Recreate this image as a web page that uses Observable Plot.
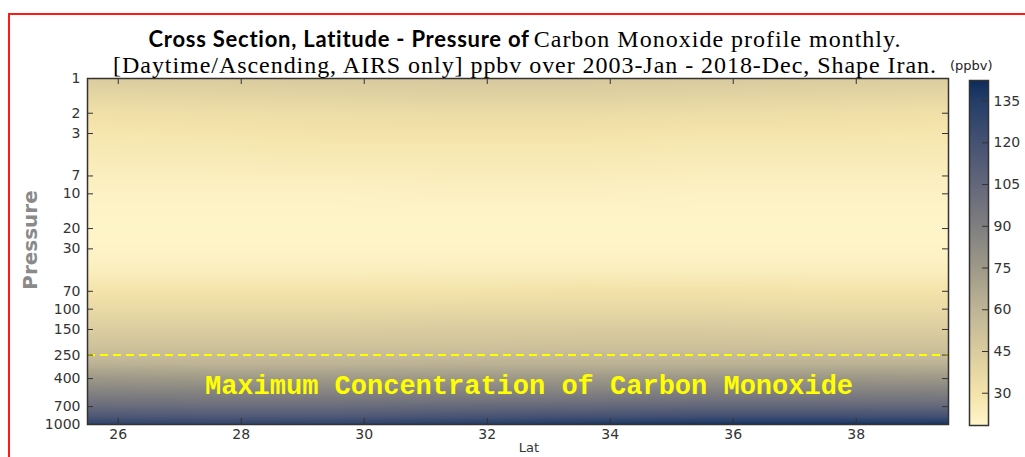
<!DOCTYPE html>
<html>
<head>
<meta charset="utf-8">
<script src="https://cdn.jsdelivr.net/npm/d3@7"></script>
<script src="https://cdn.jsdelivr.net/npm/@observablehq/plot@0.6"></script>
<style>
  body { margin: 0; background: #fff; }
  #wrap { position: relative; width: 1025px; height: 457px; overflow: hidden; background: #fff; }
  #border { position: absolute; left: 8px; top: 13px; width: 1100px; height: 600px; border-left: 2px solid #ff1a1a; border-top: 2px solid #ff1a1a; }
  .t { position: absolute; left: 0; width: 1050px; text-align: center; white-space: nowrap; color: #000; line-height: 27px; }
  #t1 { top: 25px; }
  #t1 .b { font-family: Lato, "Open Sans", sans-serif; font-weight: bold; font-size: 22px; letter-spacing: 0.75px; }
  #t1 .s { font-family: "Liberation Serif", serif; font-size: 24px; letter-spacing: 1px; }
  #t2 { top: 52px; font-family: "Liberation Serif", serif; font-size: 24px; letter-spacing: 0.95px; }
  #unit { position: absolute; left: 950px; top: 58px; font-family: "DejaVu Sans", sans-serif; font-size: 13px; color: #222; }
  #ylab { position: absolute; left: 30px; top: 240px; transform: translate(-50%, -50%) rotate(-90deg); font-family: "DejaVu Sans", sans-serif; font-weight: bold; font-size: 20px; color: #8a8a8a; white-space: nowrap; }
  #main { position: absolute; left: 0; top: 0; }
  #cbar { position: absolute; left: 955px; top: 0; }
</style>
</head>
<body>
<div id="wrap">
  <div id="border"></div>
  <div id="main"></div>
  <div id="cbar"></div>
  <div class="t" id="t1"><span class="b">Cross Section, Latitude - Pressure of</span> <span class="s">Carbon Monoxide profile monthly.</span></div>
  <div class="t" id="t2">[Daytime/Ascending, AIRS only] ppbv over 2003-Jan - 2018-Dec, Shape Iran.</div>
  <div id="unit">(ppbv)</div>
  <div id="ylab">Pressure</div>
</div>
<script>
// ---- data ----
const lats = [25.5, 27.5, 29.5, 31.5, 33.5, 35.5, 37.5, 39.5];
const pressures = [1, 1.5, 2, 3, 5, 7, 10, 15, 20, 30, 40, 50, 70, 100, 150, 200, 250, 300, 400, 500, 600, 700, 850, 1000];
// CO (ppbv), one row per pressure level, one column per latitude
const coValues = [
  [45, 45, 46, 47, 47, 46, 45, 44],
  [37, 38, 39, 40, 40, 39, 38, 37],
  [32, 33, 34, 35, 35, 34, 33, 32],
  [28, 29, 30, 30, 30, 29, 29, 28],
  [25, 25, 26, 26, 26, 25, 25, 25],
  [23, 23, 23, 24, 24, 23, 23, 23],
  [21, 21, 21, 22, 22, 21, 21, 21],
  [20, 20, 20, 20, 20, 20, 20, 20],
  [19.5, 19.5, 19.5, 19.5, 19.5, 19.5, 19.5, 19.5],
  [20, 20, 20, 20, 20, 20, 20, 20],
  [22, 22, 22, 22, 22, 22, 22, 22],
  [24, 24, 24, 24.5, 24.5, 24, 24, 24],
  [30, 30, 30, 30, 31, 31, 30, 30],
  [36, 36, 36, 37, 37, 37, 36, 36],
  [44, 44, 44, 45, 45, 45, 44, 44],
  [50, 50, 50, 50, 51, 51, 50, 50],
  [55, 55, 55, 55, 56, 56, 56, 55],
  [62, 61, 61, 62, 62, 62, 62, 62],
  [76, 75, 75, 76, 76, 77, 77, 76],
  [86, 85, 85, 86, 86, 87, 87, 87],
  [95, 94, 94, 95, 96, 97, 97, 96],
  [103, 102, 102, 104, 105, 106, 106, 105],
  [116, 115, 115, 118, 120, 122, 122, 121],
  [132, 131, 132, 135, 138, 141, 141, 140]
];
const latDomain = [25.5, 39.5];
const pressureDomain = [1, 1000];
const xTicks = [26, 28, 30, 32, 34, 36, 38];
const yTicks = [1, 2, 3, 7, 10, 20, 30, 70, 100, 150, 250, 400, 700, 1000];
const colorTicks = [30, 45, 60, 75, 90, 105, 120, 135];
const colorDomain = [18.4, 142.4];
const refPressure = [250];
const annotation = ["Maximum Concentration of Carbon Monoxide"];

// ---- colour map ----
const cmapStops = [18.4, 30, 45, 60, 75, 90, 105, 120, 135, 142.4];
const cmapColors = ["#fff6cc", "#f4e3aa", "#dacc9f", "#bfb596", "#9e9988", "#807f80", "#63677a", "#465273", "#243e68", "#0d2b5c"];
const colorScale = {type: "linear", domain: cmapStops, range: cmapColors, interpolate: "rgb", clamp: true};

const cells = [];
pressures.forEach((p, i) => lats.forEach((lat, j) => cells.push({lat, p, v: coValues[i][j]})));

const frameW = 1025 - 87 - 77;
const frameH = 457 - 78 - 33;
const tickLen = 6;

const main = Plot.plot({
  width: 1025, height: 457,
  marginTop: 78, marginBottom: 33, marginLeft: 87, marginRight: 77,
  style: "font-family: 'DejaVu Sans', sans-serif; font-size: 14px; color: #333; background: none; overflow: visible;",
  x: {domain: latDomain, axis: null},
  y: {type: "log", domain: pressureDomain, reverse: true, axis: null},
  color: colorScale,
  marks: [
    Plot.raster(cells, {x: "lat", y: "p", fill: "v", interpolate: "barycentric",
      x1: latDomain[0], x2: latDomain[1], y1: pressureDomain[0], y2: pressureDomain[1]}),
    Plot.ruleY(refPressure, {stroke: "#ffff00", strokeWidth: 2, strokeDasharray: "8,5"}),
    Plot.text(annotation, {frameAnchor: "bottom", dx: 11, dy: -31, text: d => d,
      fill: "#ffff00", fontFamily: "'Liberation Mono', monospace", fontWeight: "bold", fontSize: 27}),
    Plot.ruleX(xTicks, {x: d => d, stroke: "#333", insetBottom: frameH - tickLen}),
    Plot.ruleX(xTicks, {x: d => d, stroke: "#333", insetTop: frameH - tickLen}),
    Plot.ruleY(yTicks, {y: d => d, stroke: "#333", insetRight: frameW - tickLen}),
    Plot.ruleY(yTicks, {y: d => d, stroke: "#333", insetLeft: frameW - tickLen}),
    Plot.frame({stroke: "#333", strokeWidth: 1.5}),
    Plot.text(xTicks, {x: d => d, frameAnchor: "bottom", dy: 14, text: d => String(d), fontSize: 14, fill: "#333"}),
    Plot.text(yTicks, {y: d => d, frameAnchor: "left", dx: -7, textAnchor: "end", text: d => String(d), fontSize: 14, fill: "#333"}),
    Plot.text(["Lat"], {frameAnchor: "bottom", dx: 11, dy: 27, text: d => d, fontSize: 13, fill: "#333"})
  ]
});
document.getElementById("main").appendChild(main);

const cbW = 70, cbML = 14, cbMR = 37;
const cbar = Plot.plot({
  width: cbW, height: 457,
  marginTop: 80, marginBottom: 32, marginLeft: cbML, marginRight: cbMR,
  style: "font-family: 'DejaVu Sans', sans-serif; font-size: 14px; color: #333; background: none; overflow: visible;",
  x: {domain: [0, 1], axis: null},
  y: {domain: colorDomain, axis: null},
  color: colorScale,
  marks: [
    Plot.raster({fill: (x, y) => y, x1: 0, x2: 1, y1: colorDomain[0], y2: colorDomain[1]}),
    Plot.ruleY(colorTicks, {y: d => d, stroke: "#333", insetLeft: (cbW - cbML - cbMR) - tickLen}),
    Plot.frame({stroke: "#333", strokeWidth: 1.5}),
    Plot.text(colorTicks, {y: d => d, frameAnchor: "right", dx: 5, textAnchor: "start", text: d => String(d), fontSize: 14, fill: "#333"})
  ]
});
document.getElementById("cbar").appendChild(cbar);
</script>
</body>
</html>
